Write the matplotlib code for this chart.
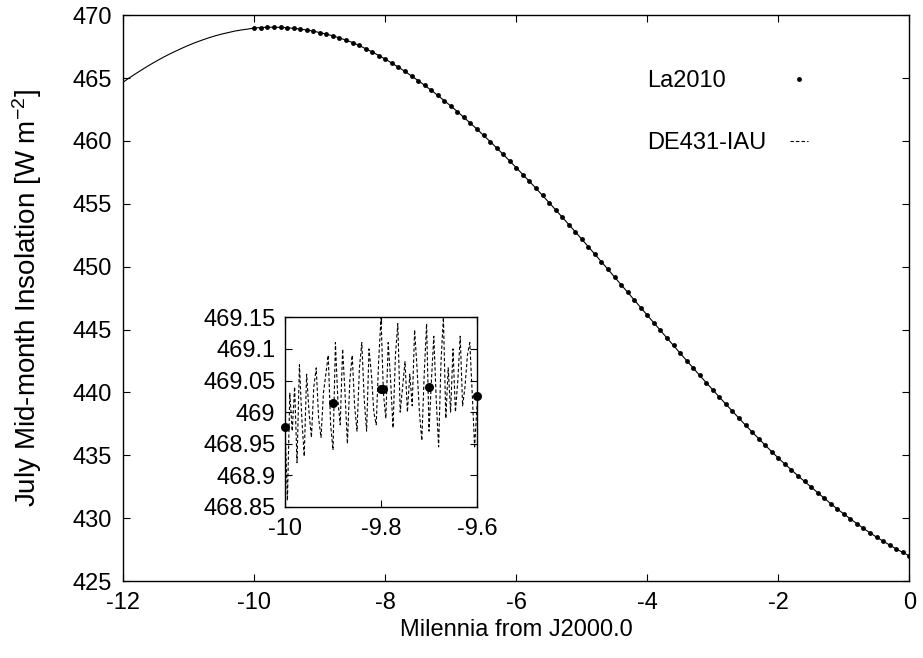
import matplotlib.pyplot as plt
import numpy as np
from matplotlib.ticker import FormatStrFormatter

plt.rcParams['font.family'] = ['Liberation Sans', 'DejaVu Sans']
plt.rcParams['font.size'] = 17
plt.rcParams['mathtext.fontset'] = 'custom'
plt.rcParams['mathtext.rm'] = 'Liberation Sans'
plt.rcParams['mathtext.default'] = 'regular'
plt.rcParams['axes.unicode_minus'] = False

# main curve, every 0.1 millennia from -12 to 0
millennia = np.round(np.arange(-120, 1) * 0.1, 1)
de431 = [
    464.68, 465.04, 465.38, 465.71, 466.03, 466.33, 466.62, 466.89, 467.14, 467.38,
    467.61, 467.82, 468.01, 468.19, 468.35, 468.49, 468.61, 468.73, 468.82, 468.89,
    468.977, 469.015, 469.036, 469.039, 469.026, 469.00, 468.95, 468.89, 468.82, 468.73,
    468.61, 468.49, 468.35, 468.19, 468.01, 467.82, 467.59, 467.33, 467.07, 466.79,
    466.50, 466.18, 465.86, 465.52, 465.16, 464.80, 464.42, 464.03, 463.62, 463.20,
    462.77, 462.33, 461.87, 461.40, 460.93, 460.44, 459.95, 459.44, 458.92, 458.40,
    457.86, 457.32, 456.78, 456.23, 455.66, 455.09, 454.52, 453.94, 453.35, 452.77,
    452.18, 451.58, 450.98, 450.38, 449.78, 449.17, 448.56, 447.96, 447.35, 446.74,
    446.13, 445.53, 444.93, 444.32, 443.73, 443.12, 442.53, 441.94, 441.35, 440.77,
    440.20, 439.62, 439.06, 438.50, 437.94, 437.39, 436.85, 436.33, 435.80, 435.28,
    434.78, 434.30, 433.84, 433.36, 432.92, 432.48, 432.03, 431.59, 431.15, 430.73,
    430.33, 429.94, 429.56, 429.18, 428.83, 428.49, 428.17, 427.86, 427.55, 427.27,
    427.00,
]
# La2010 points only start at -10
la2010_x = millennia[20:]
la2010 = de431[20:]

# zoomed window -10 .. -9.6, DE431 every 5 years
inset_x = np.round(np.arange(-2000, -1919) * 0.005, 3)
inset_de431 = [
    468.98, 468.86, 469.03, 468.97, 469.04, 468.92, 469.075, 468.99, 468.93, 469.06,
    469.00, 468.96, 469.04, 469.07, 468.99, 468.96, 469.03, 469.06, 469.09, 468.98,
    468.94, 469.11, 469.02, 468.98, 469.10, 469.03, 468.95, 469.05, 469.09, 469.01,
    468.97, 469.07, 469.11, 469.02, 468.97, 469.10, 469.06, 469.00, 468.98, 469.08,
    469.15, 469.03, 468.99, 469.11, 469.05, 468.975, 469.09, 469.14, 469.00, 469.04,
    469.08, 469.00, 469.06, 469.01, 469.13, 469.07, 469.00, 468.955, 469.06, 469.14,
    468.97, 469.05, 469.12, 469.02, 468.945, 469.08, 469.15, 468.99, 469.07, 469.00,
    469.10, 469.00, 469.05, 469.12, 469.01, 469.04, 469.09, 469.11, 469.03, 468.945,
    469.01,
]
inset_la2010_x = [-10.0, -9.9, -9.8, -9.795, -9.7, -9.6]
inset_la2010 = [468.977, 469.015, 469.036, 469.037, 469.039, 469.026]

xticks = [-12, -10, -8, -6, -4, -2, 0]
yticks = [425, 430, 435, 440, 445, 450, 455, 460, 465, 470]
inset_xticks = [-10, -9.8, -9.6]
inset_yticks = [468.85, 468.9, 468.95, 469, 469.05, 469.1, 469.15]

fig = plt.figure(figsize=(9.23, 6.58), dpi=100)
ax = fig.add_axes([0.1336, 0.117, 0.8516, 0.860])

ax.plot(millennia, de431, color='black', lw=0.8)
h_la, = ax.plot(la2010_x, la2010, 'o', color='black', ms=3.5, mec='none')

ax.set_xlim(-12, 0)
ax.set_ylim(425, 470)
ax.set_xticks(xticks)
ax.set_yticks(yticks)
ax.tick_params(direction='in', top=True, right=True, length=5, width=0.8)
ax.tick_params(axis='y', pad=8)
ax.tick_params(axis='x', pad=8)
for s in ax.spines.values():
    s.set_linewidth(1.0)
ax.set_xlabel('Milennia from J2000.0')
ax.set_ylabel('July Mid-month Insolation [W m$^{-2}$]', fontsize=20)
ax.yaxis.set_label_coords(-0.101, 0.5)
ax.xaxis.set_label_coords(0.5, -0.068)

# inset
axin = fig.add_axes([0.3088, 0.2295, 0.208, 0.2883])
h_de, = axin.plot(inset_x, inset_de431, color='black', lw=0.8, ls=(0, (3, 2)))
axin.plot(inset_la2010_x, inset_la2010, 'o', color='black', ms=6.5, mec='none',
          clip_on=False, zorder=3)
axin.set_xlim(-10, -9.6)
axin.set_ylim(468.85, 469.15)
axin.set_xticks(inset_xticks)
axin.set_yticks(inset_yticks)
axin.xaxis.set_major_formatter(FormatStrFormatter('%g'))
axin.yaxis.set_major_formatter(FormatStrFormatter('%g'))
axin.tick_params(direction='in', top=True, right=True, length=5, width=0.8)
axin.tick_params(axis='y', pad=7)
axin.tick_params(axis='x', pad=8)
for s in axin.spines.values():
    s.set_linewidth(1.0)

# gnuplot-style key: labels left aligned, samples on the right
leg = ax.legend([h_la, h_de], ['La2010', 'DE431-IAU'], loc='upper left',
                bbox_to_anchor=(0.667, 0.903), frameon=False, markerfirst=False,
                borderpad=0, borderaxespad=0, handlelength=0.75,
                handletextpad=0.5, labelspacing=1.7, numpoints=1)
for item in leg._legend_handle_box.get_children()[0].get_children():
    item.mode = 'expand'
    item.width = 160

fig.savefig('out.png', dpi=100)
